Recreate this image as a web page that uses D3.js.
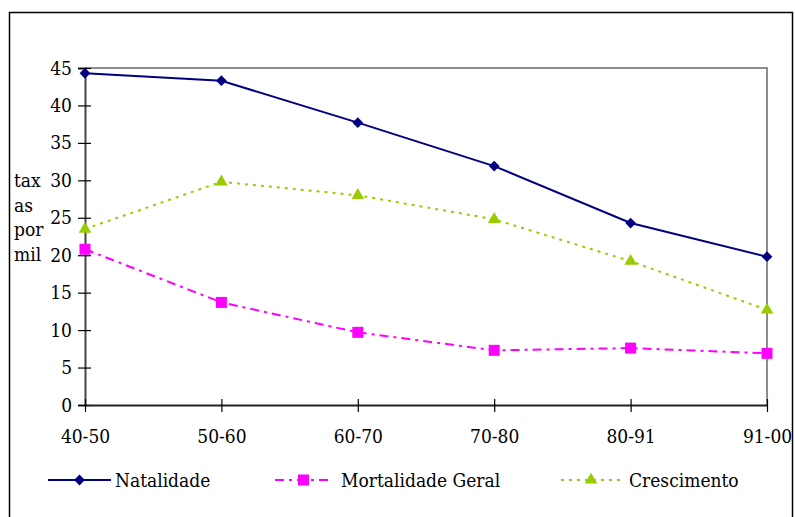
<!DOCTYPE html>
<html>
<head>
  <title>Taxas por mil</title>
  <style>
    body { margin: 0; background: white; }
    svg { display: block; }
  </style>
</head>
<body>
  <svg width="795" height="517"></svg>

  <script src="https://d3js.org/d3.v7.min.js"></script>
  <script>
    const periods = ["40-50", "50-60", "60-70", "70-80", "80-91", "91-00"];
    const natalidade = [44.3, 43.3, 37.7, 31.9, 24.3, 19.8];
    const mortalidade = [20.8, 13.7, 9.7, 7.3, 7.6, 6.9];
    const crescimento = [23.5, 29.8, 28.0, 24.8, 19.2, 12.7];
    const yTicks = [0, 5, 10, 15, 20, 25, 30, 35, 40, 45];
    const yTitle = ["tax", "as", "por", "mil"];

    // diamond drawn as a square turned 45 degrees
    const series = [
      { name: "Natalidade", values: natalidade, color: "#000080", dash: null, symbol: d3.symbolSquare, size: 58, rot: 45, lx: 48, lx2: 111, tx: 115 },
      { name: "Mortalidade Geral", values: mortalidade, color: "#FF00FF", dash: "9,5,3,5", symbol: d3.symbolSquare, size: 121, rot: 0, lx: 275, lx2: 332, tx: 341 },
      { name: "Crescimento", values: crescimento, color: "#99CC00", dash: "3,5", symbol: d3.symbolTriangle, size: 68, rot: 0, lx: 561, lx2: 621, tx: 629 }
    ];

    const svg = d3.select("svg");
    const plot = { left: 85, right: 767, top: 68, bottom: 405 };
    const font = "'DejaVu Serif Condensed', 'DejaVu Serif', serif";
    const fontSize = 19;

    // outer frame
    svg.append("rect")
      .attr("x", 9.5).attr("y", 12.5)
      .attr("width", 783).attr("height", 520)
      .attr("fill", "none").attr("stroke", "#000").attr("stroke-width", 1.5);

    const x = d3.scalePoint().domain(periods).range([plot.left, plot.right]);
    const y = d3.scaleLinear().domain([0, 45]).range([plot.bottom, plot.top]);

    // plot area frame (top and right in gray)
    svg.append("path")
      .attr("d", `M${plot.left},${plot.top}H${plot.right}V${plot.bottom}`)
      .attr("fill", "none").attr("stroke", "#8c8c8c").attr("stroke-width", 2);

    // y axis
    const yAxis = svg.append("g")
      .attr("transform", `translate(${plot.left},0)`)
      .call(d3.axisLeft(y).tickValues(yTicks).tickSize(7).tickPadding(6));
    yAxis.attr("font-family", font).attr("font-size", fontSize);
    yAxis.select(".domain").attr("stroke", "#444").attr("stroke-width", 2);
    yAxis.selectAll(".tick line").attr("x1", 6).attr("stroke", "#000").attr("stroke-width", 1.2);
    yAxis.selectAll(".tick text").attr("fill", "#000");

    // x axis
    const xAxis = svg.append("g")
      .attr("transform", `translate(0,${plot.bottom})`)
      .call(d3.axisBottom(x).tickSize(7).tickSizeOuter(0));
    xAxis.attr("font-family", font).attr("font-size", fontSize);
    xAxis.select(".domain").attr("stroke", "#222").attr("stroke-width", 2);
    xAxis.selectAll(".tick line").attr("y1", -6).attr("stroke", "#000").attr("stroke-width", 1.2);
    xAxis.selectAll(".tick text").attr("y", 38).attr("dy", 0).attr("fill", "#000");

    // y title
    svg.append("text")
      .attr("font-family", font)
      .attr("font-size", fontSize)
      .selectAll("tspan")
      .data(yTitle)
      .join("tspan")
      .attr("x", 14)
      .attr("y", (d, i) => 187 + i * 24.5)
      .text(d => d);

    const line = d3.line()
      .x((d, i) => x(periods[i]))
      .y(d => y(d));

    series.forEach(s => {
      svg.append("path")
        .datum(s.values)
        .attr("d", line)
        .attr("fill", "none")
        .attr("stroke", s.color)
        .attr("stroke-width", 2)
        .attr("stroke-dasharray", s.dash);

      svg.append("g")
        .selectAll("path")
        .data(s.values)
        .join("path")
        .attr("d", d3.symbol(s.symbol, s.size))
        .attr("transform", (d, i) => `translate(${x(periods[i])},${y(d)}) rotate(${s.rot})`)
        .attr("fill", s.color);

      // legend
      const ly = 480;
      svg.append("line")
        .attr("x1", s.lx).attr("x2", s.lx2)
        .attr("y1", ly).attr("y2", ly)
        .attr("stroke", s.color).attr("stroke-width", 2)
        .attr("stroke-dasharray", s.dash);
      svg.append("path")
        .attr("d", d3.symbol(s.symbol, s.size))
        .attr("transform", `translate(${(s.lx + s.lx2) / 2},${ly}) rotate(${s.rot})`)
        .attr("fill", s.color);
      svg.append("text")
        .attr("x", s.tx).attr("y", 487)
        .attr("font-family", font)
        .attr("font-size", fontSize)
        .text(s.name);
    });
  </script>
</body>
</html>
